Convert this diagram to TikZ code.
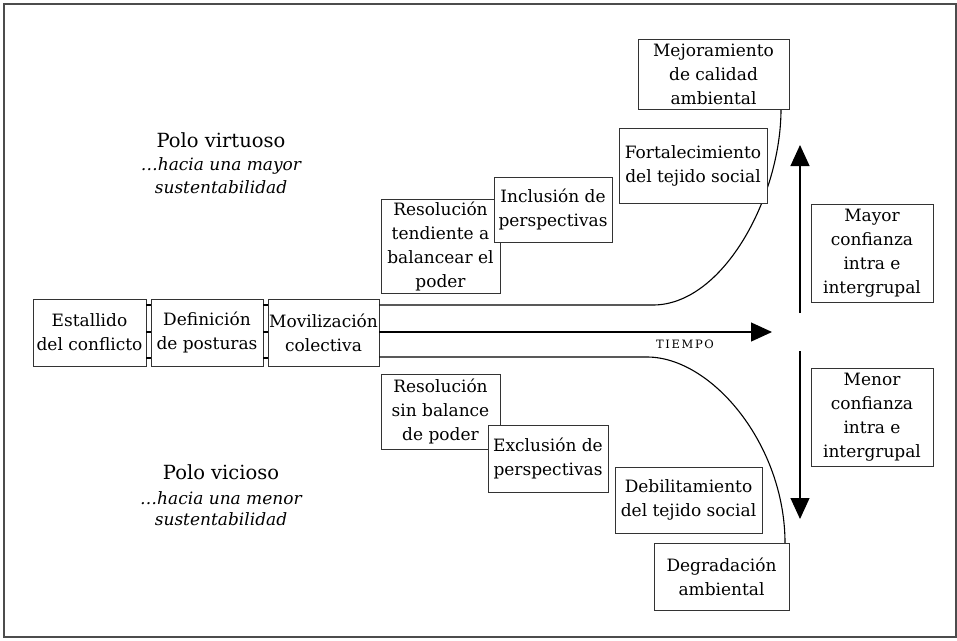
\documentclass[tikz,border=0pt]{standalone}
\usepackage{fontspec}
\setmainfont{DejaVu Serif}
\usetikzlibrary{arrows.meta}
\newcommand{\bxfont}{\fontsize{17}{24}\selectfont}
\newcommand{\polofont}{\fontsize{19.5}{24}\selectfont}
\newcommand{\itfont}{\fontsize{17}{22}\selectfont\itshape}
\tikzset{
  bx/.style={draw=black!80, line width=0.9pt, fill=white, align=center, inner sep=0pt, font=\bxfont},
  conn/.style={line width=1.1pt, black},
  bigtip/.style={-{Triangle[length=21pt,width=19pt]}, line width=1.1pt},
  lbl/.style={inner sep=0pt, anchor=center},
}
\begin{document}
\begin{tikzpicture}[x=1pt,y=-1pt]
\useasboundingbox (0,0) rectangle (957,640);
\draw[black!70, line width=1.2pt] (4,4) rectangle (956,637);

% left boxes
\node[bx, minimum width=113pt, minimum height=67pt] (est) at (89.5,332.5) {Estallido\\del conflicto};
\node[bx, minimum width=112pt, minimum height=67pt] (def) at (207,332.5) {Definición\\de posturas};
\node[bx, minimum width=111pt, minimum height=67pt] (mov) at (323.5,332.5) {Movilización\\colectiva};

\foreach \yy in {305,332,358}{
  \draw[conn] (est.east |- 0,\yy) -- (def.west |- 0,\yy);
  \draw[conn] (def.east |- 0,\yy) -- (mov.west |- 0,\yy);
}

% named points on the pathways
\coordinate (ubend) at (653,305);
\coordinate (lbend) at (647,357);
\coordinate (tend) at (772,332);
\coordinate (uend) at (781,109);
\coordinate (lend) at (785,543);

% curves
\draw[conn] (mov.east |- ubend) -- (ubend) .. controls (723,305) and (781,197) .. (uend);
\draw[conn] (mov.east |- lbend) -- (lbend) .. controls (712,357) and (785,445) .. (lend);
\draw[bigtip] (mov.east |- tend) -- (tend);
\node[lbl, font=\fontsize{11.5}{14}\selectfont\addfontfeature{LetterSpace=14}] (tiempo) at (685,344) {TIEMPO};

% upper boxes
\node[bx, minimum width=119pt, minimum height=94pt] (res1) at (440.5,246) {Resolución\\tendiente a\\balancear el\\poder};
\node[bx, minimum width=118pt, minimum height=65pt] (inc) at (553,209.5) {Inclusión de\\perspectivas};
\node[bx, minimum width=148pt, minimum height=75pt] (fort) at (693,165.5) {Fortalecimiento\\del tejido social};
\node[bx, minimum width=151pt, minimum height=70pt] (mej) at (713.5,74) {Mejoramiento\\de calidad\\ambiental};

% lower boxes
\node[bx, minimum width=119pt, minimum height=75pt] (res2) at (440.5,411.5) {Resolución\\sin balance\\de poder};
\node[bx, minimum width=120pt, minimum height=67pt] (exc) at (548,458.5) {Exclusión de\\perspectivas};
\node[bx, minimum width=147pt, minimum height=66pt] (deb) at (688.5,500) {Debilitamiento\\del tejido social};
\node[bx, minimum width=135pt, minimum height=67pt] (deg) at (721.5,576.5) {Degradación\\ambiental};

% right side
\coordinate (ua) at (800,313);
\coordinate (ub) at (800,145);
\coordinate (da) at (800,351);
\coordinate (db) at (800,519);
\draw[bigtip] (ua) -- (ub);
\draw[bigtip] (da) -- (db);
\node[bx, minimum width=122pt, minimum height=98pt] (may) at (872,253) {Mayor\\confianza\\intra e\\intergrupal};
\node[bx, minimum width=122pt, minimum height=98pt] (men) at (872,417) {Menor\\confianza\\intra e\\intergrupal};

% pole labels
\node[lbl, font=\polofont] (pv1) at (221,140) {Polo virtuoso};
\node[lbl, font=\itfont] (pv2) at (221,166) {\dots hacia una mayor};
\node[lbl, font=\itfont] (pv3) at (221,187) {sustentabilidad};
\node[lbl, font=\polofont] (pc1) at (221,472) {Polo vicioso};
\node[lbl, font=\itfont] (pc2) at (221,498) {\dots hacia una menor};
\node[lbl, font=\itfont] (pc3) at (221,519) {sustentabilidad};
\end{tikzpicture}
\end{document}
